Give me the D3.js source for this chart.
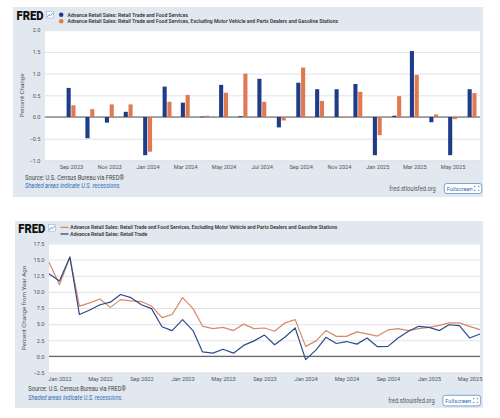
<!DOCTYPE html>
<html><head><meta charset="utf-8">
<script src="https://cdn.jsdelivr.net/npm/d3@7/dist/d3.min.js"></script>
<style>body{margin:0;background:#fff;}svg{display:block;font-family:Roboto,"Open Sans",sans-serif;}</style>
</head><body>
<svg id="c" width="500" height="418"></svg>
<script>
// ---------- DATA ----------
const barMonths = ["2023-09","2023-10","2023-11","2023-12","2024-01","2024-02","2024-03","2024-04","2024-05","2024-06","2024-07","2024-08","2024-09","2024-10","2024-11","2024-12","2025-01","2025-02","2025-03","2025-04","2025-05","2025-06"];
const retailFood = [0.67,-0.49,-0.13,0.12,-0.88,0.70,0.33,0.01,0.74,0.02,0.88,-0.24,0.79,0.64,0.64,0.76,-0.88,0.03,1.52,-0.12,-0.88,0.64];
const retailExAutoGas = [0.27,0.18,0.29,0.29,-0.80,0.35,0.51,0.03,0.56,1.00,0.35,-0.08,1.14,0.37,-0.02,0.58,-0.42,0.48,0.97,0.06,-0.05,0.55];
const barYTicks = [-1.0,-0.5,0.0,0.5,1.0,1.5,2.0];
const barSeriesNames = ["Advance Retail Sales: Retail Trade and Food Services","Advance Retail Sales: Retail Trade and Food Services, Excluding Motor Vehicle and Parts Dealers and Gasoline Stations"];

const lineMonths = ["2021-12","2022-01","2022-02","2022-03","2022-04","2022-05","2022-06","2022-07","2022-08","2022-09","2022-10","2022-11","2022-12","2023-01","2023-02","2023-03","2023-04","2023-05","2023-06","2023-07","2023-08","2023-09","2023-10","2023-11","2023-12","2024-01","2024-02","2024-03","2024-04","2024-05","2024-06","2024-07","2024-08","2024-09","2024-10","2024-11","2024-12","2025-01","2025-02","2025-03","2025-04","2025-05","2025-06"];
const yoyExAutoGas = [14.6,11.1,15.4,7.8,8.3,8.9,7.6,8.8,8.6,8.5,7.8,6.0,6.5,9.1,7.4,4.7,4.3,4.5,4.0,5.0,4.3,4.4,3.9,5.2,5.7,1.55,2.4,4.0,3.1,3.1,3.8,3.5,3.15,4.1,4.3,4.0,4.3,4.5,4.8,5.2,5.2,4.66,4.14];
const yoyRetailTrade = [12.8,11.7,15.4,6.5,7.2,8.0,8.4,9.6,9.1,8.0,7.4,4.6,4.0,5.7,4.0,0.7,0.5,1.1,0.5,1.7,2.4,3.3,1.8,3.0,4.4,-0.5,1.0,2.95,2.0,2.3,1.9,2.85,1.5,1.55,2.85,3.9,4.66,4.5,4.0,4.9,4.76,2.85,3.47];
const lineYTicks = [-2.5,0.0,2.5,5.0,7.5,10.0,12.5,15.0,17.5];
const lineSeriesNames = ["Advance Retail Sales: Retail Trade and Food Services, Excluding Motor Vehicle and Parts Dealers and Gasoline Stations","Advance Retail Sales: Retail Trade"];

// ---------- STYLE ----------
const BLUE = "#1f3c88", ORANGE = "#e07850";
const LBLUE = "#2b4c8c", LORANGE = "#d98868";
const PANEL = "#e1e8ef", GRID = "#d8dcdf", TXT = "#555";
const parse = d3.timeParse("%Y-%m");
const svg = d3.select("#c");

function fitText(sel, w){ sel.attr("textLength", w).attr("lengthAdjust","spacingAndGlyphs"); return sel; }

function frame(g, p){
  g.append("rect").attr("x",p.x0).attr("y",p.y0).attr("width",p.x1-p.x0).attr("height",p.y1-p.y0).attr("fill",PANEL);
  // FRED logo
  fitText(g.append("text").attr("x",p.logoX).attr("y",p.logoY).attr("font-size",12.5).attr("font-weight",900).attr("fill","#111").text("FRED"), 27);
  const ix = p.logoX+30, iy = p.logoY-8;
  g.append("rect").attr("x",ix).attr("y",iy).attr("width",7).attr("height",6.5).attr("fill","#fff").attr("stroke","#9bb5d6").attr("stroke-width",0.6);
  g.append("path").attr("d",`M${ix+0.8},${iy+5.5}L${ix+2.5},${iy+3}L${ix+4},${iy+4.2}L${ix+6.4},${iy+1.2}`).attr("fill","none").attr("stroke","#5b87c5").attr("stroke-width",0.8);
}

function footer(g, p){
  fitText(g.append("text").attr("x",p.srcX).attr("y",p.srcY).attr("font-size",6.3).attr("fill","#444").text("Source: U.S. Census Bureau via FRED®"), p.srcW);
  fitText(g.append("text").attr("x",p.srcX).attr("y",p.srcY+8.4).attr("font-size",6.3).attr("font-style","italic").attr("fill","#2f6cb5").text("Shaded areas indicate U.S. recessions."), p.shW);
  fitText(g.append("text").attr("x",p.urlX).attr("y",p.urlY).attr("font-size",6.3).attr("fill","#555").text("fred.stlouisfed.org"), 46.5);
  const b = p.btn;
  g.append("rect").attr("x",b.x).attr("y",b.y).attr("width",b.w).attr("height",b.h).attr("rx",2.5).attr("fill","#fff").attr("stroke","#5e8fcb").attr("stroke-width",0.8);
  fitText(g.append("text").attr("x",b.x+2.4).attr("y",b.y+b.h/2+2.2).attr("font-size",6.2).attr("fill","#2f6cb5").text("Fullscreen"), 26);
  const cx = b.x+b.w-5, cy = b.y+b.h/2, s=2.2, t=1;
  const corners = [[-1,-1],[1,-1],[-1,1],[1,1]];
  corners.forEach(([dx,dy])=>{
    const px = cx+dx*s, py = cy+dy*s;
    g.append("path").attr("d",`M${px-dx*t},${py}L${px},${py}L${px},${py-dy*t}`).attr("fill","none").attr("stroke","#2f6cb5").attr("stroke-width",0.7);
  });
}

// ================= TOP: bar chart =================
(function(){
  const g = svg.append("g");
  const P = {x0:13,y0:7,x1:483,y1:197,logoX:16.5,logoY:19.5};
  frame(g,P);
  const L = 45, R = 480, T = 30.2, B = 160.4;
  g.append("rect").attr("x",L).attr("y",T).attr("width",R-L).attr("height",B-T).attr("fill","#fff");
  const dates = barMonths.map(parse);
  const x = d3.scaleTime().domain([parse("2023-09"),parse("2025-06")]).range([71,472]);
  const y = d3.scaleLinear().domain([-1,2]).range([B,T]);

  // grid + y labels
  const yAxis = d3.axisLeft(y).tickValues(barYTicks).tickSize(-(R-L)).tickFormat(d3.format(".1f"));
  const ya = g.append("g").attr("transform",`translate(${L},0)`).call(yAxis);
  ya.select(".domain").remove();
  ya.selectAll(".tick line").attr("stroke",GRID).attr("stroke-width",0.8);
  ya.selectAll(".tick text").attr("x",-4.5).attr("font-size",5.6).attr("fill",TXT).attr("font-family","Roboto,sans-serif");
  g.append("line").attr("x1",L).attr("x2",R).attr("y1",y(0)).attr("y2",y(0)).attr("stroke","#444").attr("stroke-width",0.9);

  // x axis labels
  const xa = g.append("g").attr("transform",`translate(0,${B})`)
    .call(d3.axisBottom(x).ticks(d3.timeMonth.every(2)).tickSize(0).tickFormat(d3.timeFormat("%b %Y")));
  xa.select(".domain").remove();
  xa.selectAll(".tick text").attr("dy",0).attr("y",8.5).attr("font-size",5.6).attr("fill",TXT).attr("font-family","Roboto,sans-serif");

  const bw = 4.1;
  g.append("g").selectAll("rect").data(dates).join("rect")
    .attr("x",(d)=>x(d)-bw-0.3).attr("width",bw)
    .attr("y",(d,i)=>y(Math.max(0,retailFood[i]))).attr("height",(d,i)=>Math.max(0.6,Math.abs(y(retailFood[i])-y(0))))
    .attr("fill",BLUE);
  g.append("g").selectAll("rect").data(dates).join("rect")
    .attr("x",(d)=>x(d)+0.4).attr("width",bw)
    .attr("y",(d,i)=>y(Math.max(0,retailExAutoGas[i]))).attr("height",(d,i)=>Math.max(0.6,Math.abs(y(retailExAutoGas[i])-y(0))))
    .attr("fill",ORANGE);

  // y title
  g.append("text").attr("transform",`translate(23.5,${(T+B)/2}) rotate(-90)`).attr("text-anchor","middle")
    .attr("font-size",6.2).attr("fill",TXT).text("Percent Change");

  // legend
  const leg = [[barSeriesNames[0],BLUE,14.8,120.5],[barSeriesNames[1],ORANGE,21.2,270.5]];
  leg.forEach(([t,c,yy,w])=>{
    g.append("circle").attr("cx",61.2).attr("cy",yy).attr("r",2.3).attr("fill",c);
    fitText(g.append("text").attr("x",67.6).attr("y",yy+2).attr("font-size",5.6).attr("font-weight",600).attr("fill","#333").text(t), w);
  });

  footer(g,{srcX:25,srcY:179.8,srcW:99,shW:95.8,urlX:389.3,urlY:191.3,btn:{x:444.3,y:183.5,w:37.4,h:10}});
})();

// ================= BOTTOM: line chart =================
(function(){
  const g = svg.append("g");
  const P = {x0:15,y0:221,x1:483,y1:408,logoX:18.3,logoY:232.6};
  frame(g,P);
  const L = 49, R = 480, T = 243.5, B = 372.5;
  g.append("rect").attr("x",L).attr("y",T).attr("width",R-L).attr("height",B-T).attr("fill","#fff");
  const dates = lineMonths.map(parse);
  const x = d3.scaleTime().domain([parse("2021-12"),parse("2025-06")]).range([L,R]);
  const y = d3.scaleLinear().domain([-2.5,17.5]).range([B,T]);

  const ya = g.append("g").attr("transform",`translate(${L},0)`)
    .call(d3.axisLeft(y).tickValues(lineYTicks).tickSize(-(R-L)).tickFormat(d3.format(".1f")));
  ya.select(".domain").remove();
  ya.selectAll(".tick line").attr("stroke",GRID).attr("stroke-width",0.8);
  ya.selectAll(".tick text").attr("x",-4.5).attr("font-size",5.6).attr("fill",TXT).attr("font-family","Roboto,sans-serif");
  g.append("line").attr("x1",L).attr("x2",R).attr("y1",y(0)).attr("y2",y(0)).attr("stroke","#666").attr("stroke-width",1.4);

  const xa = g.append("g").attr("transform",`translate(0,${B})`)
    .call(d3.axisBottom(x).ticks(d3.timeMonth.every(4)).tickSize(0).tickFormat(d3.timeFormat("%b %Y")));
  xa.select(".domain").remove();
  xa.selectAll(".tick").filter(d=>x(d)<L+2).remove();
  xa.selectAll(".tick text").attr("dy",0).attr("y",8.6).attr("font-size",5.6).attr("fill",TXT).attr("font-family","Roboto,sans-serif");

  const line = (vals)=>d3.line().x((d,i)=>x(dates[i])).y((d)=>y(d))(vals);
  g.append("path").attr("d",line(yoyExAutoGas)).attr("fill","none").attr("stroke",LORANGE).attr("stroke-width",1.2).attr("stroke-linejoin","round");
  g.append("path").attr("d",line(yoyRetailTrade)).attr("fill","none").attr("stroke",LBLUE).attr("stroke-width",1.2).attr("stroke-linejoin","round");

  g.append("text").attr("transform",`translate(25.5,${(T+B)/2}) rotate(-90)`).attr("text-anchor","middle")
    .attr("font-size",6.2).attr("fill",TXT).text("Percent Change from Year Ago");

  const leg = [[lineSeriesNames[0],LORANGE,227.4,267],[lineSeriesNames[1],LBLUE,234,77]];
  leg.forEach(([t,c,yy,w])=>{
    g.append("line").attr("x1",60.5).attr("x2",68.5).attr("y1",yy).attr("y2",yy).attr("stroke",c).attr("stroke-width",1.3);
    fitText(g.append("text").attr("x",70.3).attr("y",yy+2).attr("font-size",5.6).attr("font-weight",600).attr("fill","#333").text(t), w);
  });

  footer(g,{srcX:28.3,srcY:391.3,srcW:97.7,shW:94.4,urlX:388.2,urlY:402.7,btn:{x:442.8,y:395.3,w:37.8,h:10.6}});
})();
</script>
</body></html>
